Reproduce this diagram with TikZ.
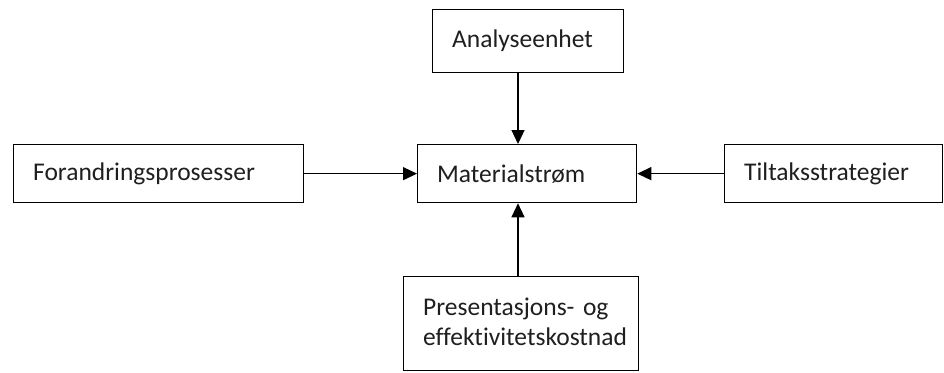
\documentclass[tikz,border=0pt]{standalone}
\usepackage{fontspec}
\setmainfont[Ligatures=NoCommon]{Carlito}
\usetikzlibrary{arrows.meta}
\begin{document}
\begin{tikzpicture}[x=1pt,y=-1pt,
  box/.style={draw=black, line width=1.3pt, fill=white, anchor=north west,
    inner xsep=19.5pt, inner ysep=0pt, align=left, text=black!88,
    font=\fontsize{25.5}{30}\selectfont},
  arr/.style={draw=black, line width=1.3pt, -{Triangle[length=14pt,width=13pt]}}]
\useasboundingbox[fill=white] (0,0) rectangle (944,372);
\node[box, text width=152pt, minimum height=63pt] (ana) at (432,9) {Analyseenhet};
\node[box, text width=180pt, minimum height=58pt] (mat) at (417,144) {Materialstrøm};
\node[box, text width=251pt, minimum height=58pt] (for) at (13,144) {Forandringsprosesser};
\node[box, text width=179pt, minimum height=58pt] (til) at (724,144) {Tiltaksstrategier};
\node[box, text width=196pt, minimum height=94pt, yshift=-0pt] (pre) at (403,276) {Presentasjons- og\\effektivitetskostnad\vphantom{p}};
\coordinate (px) at (518,0);
\draw[arr] (ana.south -| px) -- (mat.north -| px);
\draw[arr] (pre.north -| px) -- (mat.south -| px);
\draw[arr] (for.east) -- (mat.west);
\draw[arr] (til.west) -- (mat.east);
\end{tikzpicture}
\end{document}
